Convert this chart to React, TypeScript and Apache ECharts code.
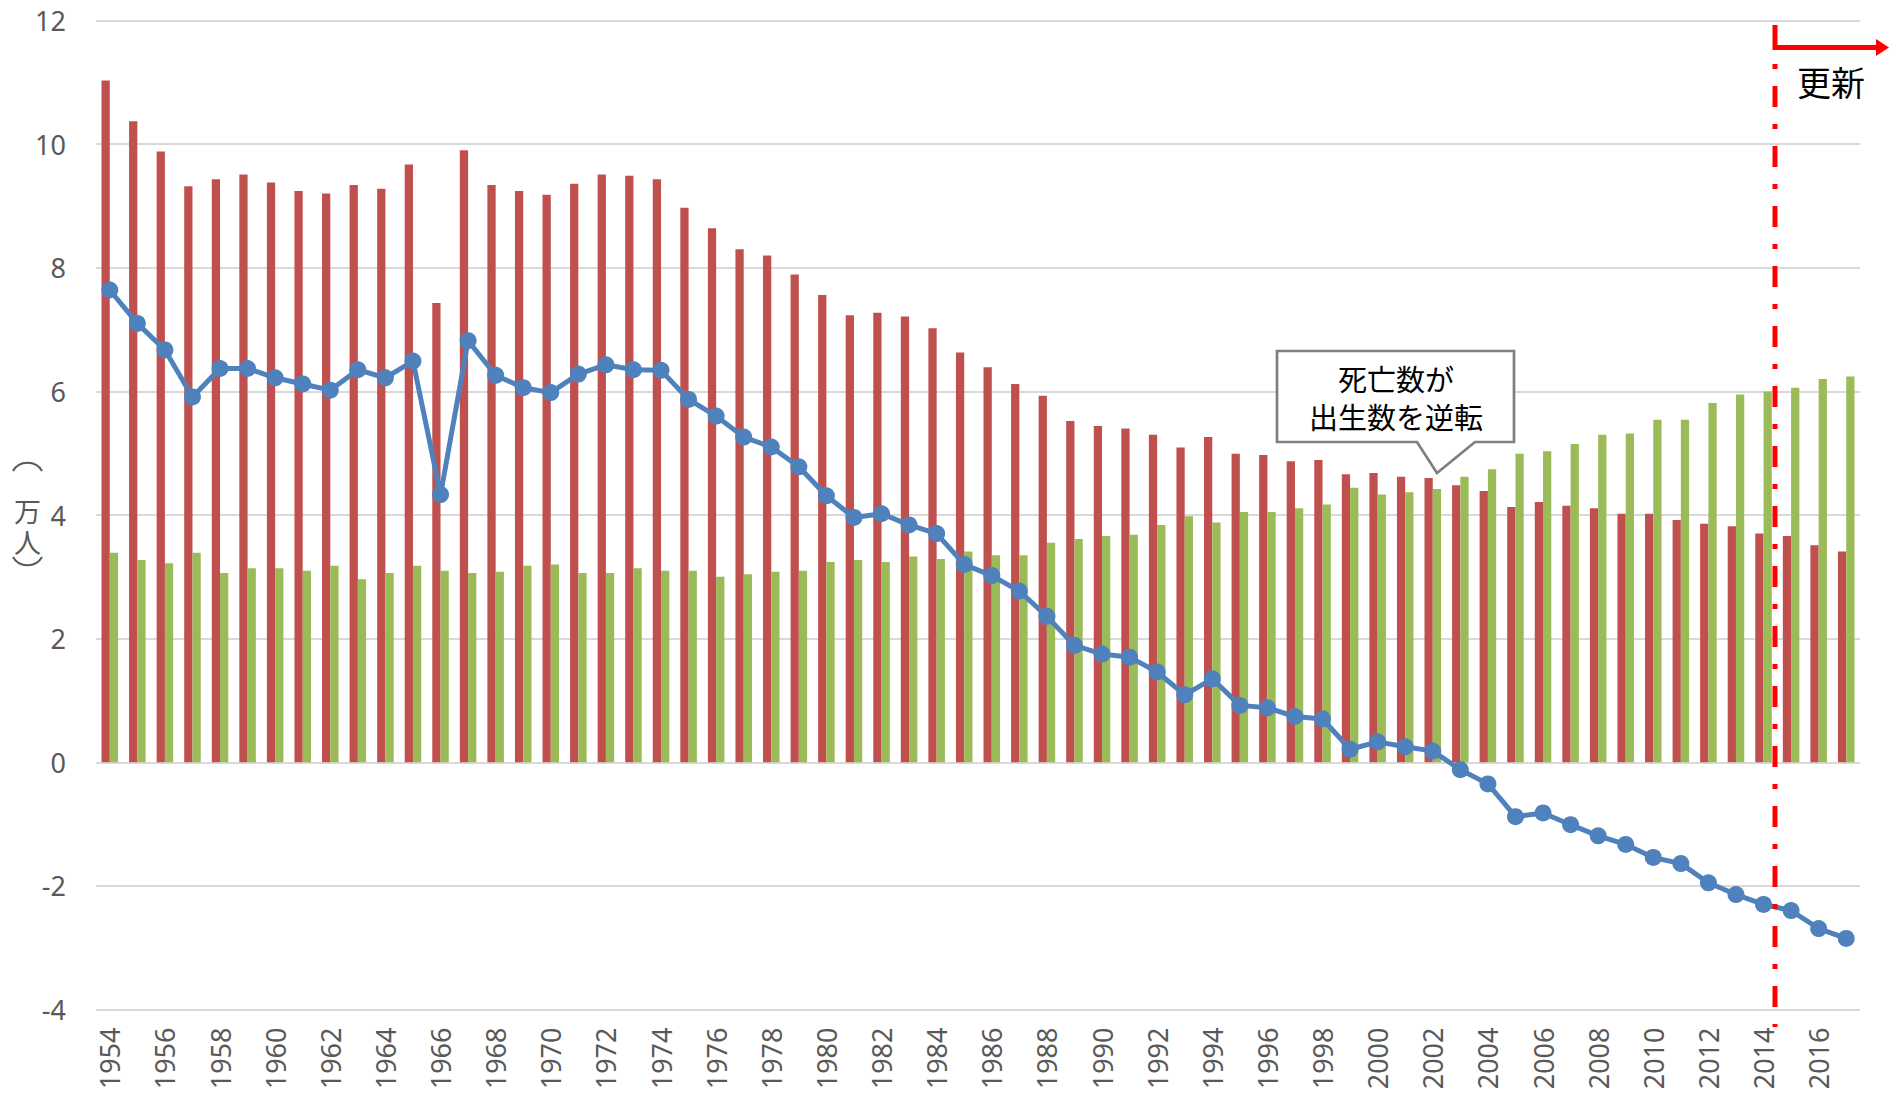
import React, { useEffect, useRef } from "react";
import * as echarts from "echarts";

const years = [
  "1954", "1955", "1956", "1957", "1958", "1959", "1960", "1961", "1962", "1963",
  "1964", "1965", "1966", "1967", "1968", "1969", "1970", "1971", "1972", "1973",
  "1974", "1975", "1976", "1977", "1978", "1979", "1980", "1981", "1982", "1983",
  "1984", "1985", "1986", "1987", "1988", "1989", "1990", "1991", "1992", "1993",
  "1994", "1995", "1996", "1997", "1998", "1999", "2000", "2001", "2002", "2003",
  "2004", "2005", "2006", "2007", "2008", "2009", "2010", "2011", "2012", "2013",
  "2014", "2015", "2016", "2017",
];

// 出生数（万人）
const births = [
  11.03, 10.37, 9.88, 9.32, 9.43, 9.51, 9.38, 9.24, 9.2, 9.34,
  9.28, 9.67, 7.43, 9.9, 9.34, 9.24, 9.18, 9.36, 9.51, 9.49,
  9.43, 8.97, 8.64, 8.3, 8.2, 7.89, 7.56, 7.23, 7.27, 7.21,
  7.02, 6.63, 6.39, 6.12, 5.93, 5.52, 5.44, 5.4, 5.3, 5.09,
  5.26, 4.99, 4.97, 4.87, 4.89, 4.66, 4.68, 4.62, 4.6, 4.48,
  4.39, 4.13, 4.21, 4.15, 4.11, 4.02, 4.02, 3.92, 3.86, 3.82,
  3.7, 3.66, 3.51, 3.41,
];

// 死亡数（万人）
const deaths = [
  3.39, 3.27, 3.22, 3.39, 3.06, 3.14, 3.14, 3.1, 3.18, 2.96,
  3.06, 3.18, 3.1, 3.06, 3.08, 3.18, 3.2, 3.06, 3.06, 3.14,
  3.1, 3.1, 3.0, 3.04, 3.08, 3.1, 3.24, 3.27, 3.24, 3.33,
  3.29, 3.41, 3.35, 3.35, 3.55, 3.61, 3.66, 3.68, 3.84, 3.98,
  3.88, 4.05, 4.05, 4.11, 4.17, 4.44, 4.33, 4.37, 4.42, 4.62,
  4.74, 4.99, 5.03, 5.15, 5.3, 5.32, 5.54, 5.54, 5.81, 5.95,
  6.0, 6.06, 6.2, 6.24,
];

// 自然増減（万人）
const naturalChange = [
  7.64, 7.1, 6.67, 5.91, 6.37, 6.37, 6.22, 6.12, 6.02, 6.35,
  6.22, 6.49, 4.33, 6.82, 6.26, 6.06, 5.98, 6.28, 6.43, 6.35,
  6.34, 5.87, 5.6, 5.26, 5.1, 4.78, 4.31, 3.96, 4.02, 3.84,
  3.7, 3.2, 3.02, 2.77, 2.36, 1.89, 1.75, 1.7, 1.46, 1.09,
  1.35, 0.92, 0.88, 0.74, 0.7, 0.21, 0.33, 0.25, 0.18, -0.12,
  -0.35, -0.88, -0.82, -1.01, -1.19, -1.33, -1.54, -1.64, -1.95, -2.14,
  -2.3, -2.4, -2.69, -2.85,
];

const yMin = -4;
const yMax = 12;
const yInterval = 2;

const yAxisName = "万\n人";
const calloutLines = ["死亡数が", "出生数を逆転"];
const updateLabel = "更新";

const CJK = '"Noto Sans CJK JP", "Noto Sans", sans-serif';
const LATIN = '"Noto Sans", "Open Sans", sans-serif';

export default function App() {
  const ref = useRef<HTMLDivElement>(null);

  useEffect(() => {
    if (!ref.current) return;
    const chart = echarts.init(ref.current, null, { renderer: "svg" });

    const option: any = {
      animation: false,
      backgroundColor: "#ffffff",
      grid: { left: 96, right: 29, top: 20.5, bottom: 85.5, containLabel: false },
      xAxis: {
        type: "category",
        data: years,
        axisLine: { show: false, onZero: false },
        axisTick: { show: false },
        axisLabel: {
          rotate: 90,
          interval: 1,
          fontSize: 27,
          fontFamily: LATIN,
          color: "#595959",
          margin: 18,
        },
        splitLine: { show: false },
      },
      yAxis: {
        type: "value",
        min: yMin,
        max: yMax,
        interval: yInterval,
        axisLine: { show: false },
        axisTick: { show: false },
        axisLabel: {
          fontSize: 27,
          fontFamily: LATIN,
          color: "#595959",
          margin: 30,
        },
        splitLine: { lineStyle: { color: "#d9d9d9", width: 2 } },
      },
      series: [
        {
          name: "出生数",
          type: "bar",
          data: births,
          itemStyle: { color: "#c0504d" },
          barGap: "0%",
          barCategoryGap: "40%",
          z: 2,
        },
        {
          name: "死亡数",
          type: "bar",
          data: deaths,
          itemStyle: { color: "#9bbb59" },
          z: 2,
        },
        {
          name: "自然増減",
          type: "line",
          data: naturalChange,
          symbol: "circle",
          symbolSize: 17,
          lineStyle: { color: "#4f81bd", width: 5 },
          itemStyle: { color: "#4f81bd" },
          z: 5,
        },
      ],
    };
    chart.setOption(option);

    const red = "#ff0000";
    const lineX = 1775;
    const graphic: any[] = [
      // y axis name （万人） vertical
      {
        type: "bezierCurve",
        shape: { x1: 13, y1: 471, cpx1: 19, cpy1: 460, cpx2: 36, cpy2: 460, x2: 42, y2: 471 },
        style: { stroke: "#595959", lineWidth: 2, fill: null },
      },
      {
        type: "text",
        style: {
          text: yAxisName,
          x: 27.5,
          y: 525.5,
          fontSize: 27,
          lineHeight: 31,
          fontFamily: CJK,
          fill: "#595959",
          textAlign: "center",
          textVerticalAlign: "middle",
          align: "center",
          verticalAlign: "middle",
        },
      },
      {
        type: "bezierCurve",
        shape: { x1: 13, y1: 557, cpx1: 19, cpy1: 568, cpx2: 36, cpy2: 568, x2: 42, y2: 557 },
        style: { stroke: "#595959", lineWidth: 2, fill: null },
      },
      // callout
      {
        type: "polygon",
        shape: {
          points: [
            [1277, 351], [1514, 351], [1514, 442], [1475, 442],
            [1437, 473], [1417, 442], [1277, 442],
          ],
        },
        style: { fill: "#ffffff", stroke: "#7f7f7f", lineWidth: 2.7 },
        z: 100,
      },
      {
        type: "text",
        z: 101,
        style: {
          text: calloutLines.join("\n"),
          x: 1396,
          y: 397,
          fontSize: 29,
          lineHeight: 38,
          fontFamily: CJK,
          fill: "#000000",
          textAlign: "center",
          textVerticalAlign: "middle",
          align: "center",
          verticalAlign: "middle",
        },
      },
      // red update marker
      {
        type: "polyline",
        shape: { points: [[lineX, 25], [lineX, 47.5], [1877, 47.5]] },
        style: { stroke: red, lineWidth: 5, fill: null, lineJoin: "miter" },
        z: 100,
      },
      {
        type: "polygon",
        shape: { points: [[1876, 39], [1889, 47.5], [1876, 56]] },
        style: { fill: red },
        z: 100,
      },
      {
        type: "line",
        shape: { x1: lineX, y1: 64, x2: lineX, y2: 1027 },
        style: { stroke: red, lineWidth: 5, lineDash: [5, 17, 21, 17] },
        z: 100,
      },
      {
        type: "text",
        z: 101,
        style: {
          text: updateLabel,
          x: 1831,
          y: 81,
          fontSize: 34,
          fontFamily: CJK,
          fill: "#000000",
          textAlign: "center",
          textVerticalAlign: "middle",
          align: "center",
          verticalAlign: "middle",
        },
      },
    ];
    chart.setOption({ graphic });

    return () => {
      chart.dispose();
    };
  }, []);

  return (
    <div
      ref={ref}
      style={{ position: "absolute", left: 0, top: 0, width: 1889, height: 1095, background: "#fff" }}
    />
  );
}
